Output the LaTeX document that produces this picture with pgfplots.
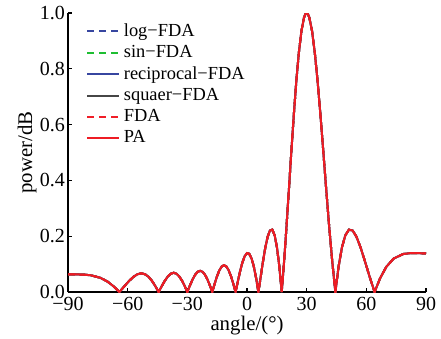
\documentclass[border=0pt]{standalone}
\usepackage{fontspec}
\setmainfont{Liberation Serif}
\usepackage{pgfplots}
\pgfplotsset{compat=1.18}
\usepackage{pgfplotstable}
\definecolor{cLog}{RGB}{55,70,160}
\definecolor{cSin}{RGB}{30,190,50}
\definecolor{cRec}{RGB}{55,70,160}
\definecolor{cSq}{RGB}{70,70,70}
\definecolor{cFDA}{RGB}{240,30,40}
\definecolor{cPA}{RGB}{238,28,36}

\pgfplotstableread{
x y
-90 0.063
-84.268 0.0628
-81.890 0.0622
-78.522 0.0599
-73.740 0.0510
-70.052 0.0370
-66.926 0.0195
-64.158 0
-61.642 0.0207
-59.317 0.0394
-57.140 0.0542
-55.084 0.0637
-53.130 0.067
-51.260 0.0637
-49.464 0.0542
-47.730 0.0394
-46.054 0.0207
-44.427 0
-42.844 0.0213
-41.300 0.0406
-39.792 0.0558
-38.316 0.0656
-36.870 0.069
-35.452 0.0656
-34.056 0.0558
-32.683 0.0406
-31.332 0.0213
-30.000 0
-28.685 0.0235
-27.387 0.0447
-26.104 0.0615
-24.835 0.0723
-23.578 0.076
-22.333 0.0723
-21.100 0.0615
-19.877 0.0447
-18.663 0.0235
-17.458 0
-16.260 0.0297
-15.070 0.0564
-13.887 0.0777
-12.710 0.0913
-11.537 0.096
-10.370 0.0913
-9.207 0.0777
-8.048 0.0564
-6.892 0.0297
-5.739 0
-4.589 0.0385
-3.440 0.0752
-2.292 0.1063
-1.146 0.1285
0 0.1393
1.146 0.1368
2.292 0.1205
3.440 0.0908
4.589 0.0496
5.739 0
6.892 0.0550
8.048 0.1097
9.207 0.1589
10.370 0.1974
11.537 0.2203
12.710 0.2234
13.887 0.2037
15.070 0.1597
16.260 0.0912
17.458 0
18.663 0.1108
19.877 0.2364
21.100 0.3709
22.333 0.5076
23.578 0.6392
24.835 0.7589
26.104 0.8597
27.387 0.9361
28.685 0.9837
29.340 0.9959
30 1
30.664 0.9959
31.332 0.9837
32.683 0.9361
34.056 0.8597
35.452 0.7589
36.870 0.6392
38.316 0.5076
39.792 0.3709
41.300 0.2364
42.844 0.1108
44.427 0
46.054 0.0912
47.730 0.1597
49.464 0.2037
51.260 0.2234
53.130 0.2203
55.084 0.1974
57.140 0.1589
59.317 0.1097
61.642 0.0550
64.158 0
66.926 0.0494
70.052 0.0904
73.740 0.1199
78.522 0.1361
81.890 0.1391
84.268 0.1393
90 0.1386
}\pattern

\begin{document}
\begin{tikzpicture}
\begin{axis}[
  name=ax,
  scale only axis,
  width=179pt, height=139.5pt,
  xmin=-90, xmax=90, ymin=0, ymax=1,
  axis lines*=left,
  axis line style={line width=0.7pt, black},
  tick align=inside,
  major tick length=2pt,
  every tick/.style={black, line width=0.6pt},
  /pgf/number format/assume math mode=true,
  xtick={-90,-60,-30,0,30,60,90},
  xticklabels={\textrm{−90},\textrm{−60},\textrm{−30},\textrm{0},\textrm{30},\textrm{60},\textrm{90}},
  ytick={0,0.2,0.4,0.6,0.8,1.0},
  yticklabels={\textrm{0.0},\textrm{0.2},\textrm{0.4},\textrm{0.6},\textrm{0.8},\textrm{1.0}},
  tick label style={font=\fontsize{10}{11}\selectfont},
  xticklabel style={yshift=1pt},
  yticklabel style={xshift=2pt},
  xlabel={angle/(°)},
  xlabel style={font=\fontsize{10.4}{12}\selectfont, yshift=4pt},
  legend style={draw=none, fill=none, at={(0.05,0.975)}, anchor=north west,
    font=\fontsize{9.2}{10.5}\selectfont, row sep=0pt,
    inner sep=0pt, nodes={inner xsep=1.8pt, inner ysep=1.5pt}},
  legend cell align=left,
  legend image code/.code={\draw[#1] (0pt,0pt) -- (16pt,0pt);},
]
\addplot[cLog, line width=1pt, dash pattern=on 3.5pt off 2.5pt] table[x=x,y=y] {\pattern};
\addlegendentry{log−FDA}
\addplot[cSin, line width=1pt, dash pattern=on 3.5pt off 2.5pt] table[x=x,y=y] {\pattern};
\addlegendentry{sin−FDA}
\addplot[cRec, line width=1pt] table[x=x,y=y] {\pattern};
\addlegendentry{reciprocal−FDA}
\addplot[cSq, line width=1pt] table[x=x,y=y] {\pattern};
\addlegendentry{squaer−FDA}
\addplot[cFDA, line width=1pt, dash pattern=on 3.5pt off 2.5pt] table[x=x,y=y] {\pattern};
\addlegendentry{FDA}
\addplot[cPA, line width=1pt] table[x=x,y=y] {\pattern};
\addlegendentry{PA}
\end{axis}
\node[rotate=90, anchor=center, font=\fontsize{10.4}{12}\selectfont, inner sep=0pt] at ([xshift=-20.5pt]ax.west) {power/dB};
\pgfresetboundingbox
\path[use as bounding box] ([shift={(-34pt,-23pt)}]ax.south west) rectangle ([shift={(7.5pt,6.5pt)}]ax.north east);
\end{tikzpicture}
\end{document}
